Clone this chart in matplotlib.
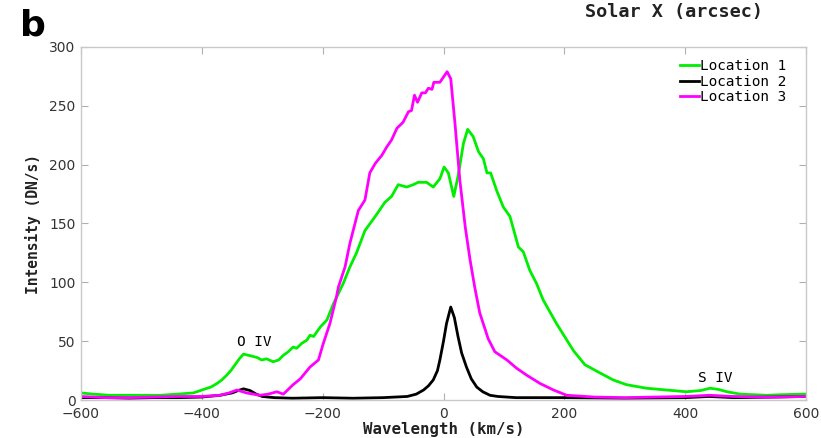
import matplotlib
matplotlib.use("Agg")
import matplotlib.pyplot as plt

# Location 1 (green)
loc1_v = [-600, -580, -552, -510, -469, -440, -414, -397, -385, -375, -367, -359, -352,
          -345, -338, -331, -323, -315, -308, -301, -293, -282, -273, -265, -257, -249,
          -243, -235, -226, -221, -215, -204, -193, -182, -166, -155, -144, -130, -113,
          -97, -86, -75, -61, -50, -42, -28, -17, -6, 1, 8, 17, 24, 33, 40, 49, 58, 66,
          72, 78, 88, 99, 110, 124, 132, 143, 154, 165, 187, 215, 234, 259, 281, 303,
          336, 369, 402, 425, 441, 455, 469, 491, 535, 560, 598]
loc1_i = [6, 5, 4, 4, 4, 5, 6, 9, 11, 14, 17, 21, 25,
          30, 35, 39, 38, 37, 36, 34, 35, 32.5, 34, 38, 41, 45,
          44, 48, 51, 55, 54, 62, 68, 82, 99, 113, 125, 144, 156,
          168, 173, 183, 181, 183, 185, 185, 181, 188, 198, 193, 173, 190, 218, 230, 224, 211, 205,
          193, 193, 178, 164, 156, 130, 126, 110, 99, 85, 65, 42, 30, 23, 17, 13,
          10, 8.5, 7, 8, 10, 9, 7, 5, 4, 4.5, 5]

# Location 2 (black)
loc2_v = [-600, -560, -520, -480, -440, -400, -370, -350, -340, -331, -320, -310, -300,
          -280, -250, -200, -150, -100, -60, -45, -33, -25, -17, -10, -6, 0, 5, 12, 18,
          24, 30, 38, 46, 55, 65, 77, 90, 120, 200, 300, 400, 440, 480, 550, 600]
loc2_i = [2, 2, 1.5, 2, 2, 2.5, 4, 6, 8, 9.5, 8, 5, 3,
          2, 1.5, 2, 1.5, 2, 3, 5, 8.5, 12, 17, 25, 34, 50, 65, 79, 70,
          54, 40, 28, 18, 11, 7, 4, 3, 2, 2, 1.5, 2, 3, 2, 2.5, 3]

# Location 3 (magenta)
loc3_v = [-600, -560, -520, -480, -440, -400, -370, -355, -342, -326, -304, -290, -276,
          -265, -249, -237, -221, -207, -199, -188, -177, -174, -163, -155, -141, -130,
          -122, -113, -102, -94, -86, -77, -67, -58, -53, -48, -43, -36, -30, -25, -19,
          -16, -6, 2, 6, 12, 19, 27, 36, 44, 52, 60, 74, 85, 105, 121, 138, 160, 182,
          204, 250, 300, 350, 400, 440, 480, 540, 600]
loc3_i = [3, 2, 2, 2.5, 3, 3, 4, 6, 8.5, 6, 4, 5, 7,
          5, 13, 18, 28, 34, 48, 65, 88, 96, 113, 133, 161, 170,
          193, 201, 208, 215, 221, 231, 236, 245, 246, 259, 253, 261, 261, 265, 264,
          270, 270, 276, 279, 273, 235, 187, 147, 119, 95, 74, 52, 41, 34, 27, 21, 14, 8.5,
          4, 2.5, 2, 2.5, 3, 4, 3, 2.5, 3]

x_ticks = [-600, -400, -200, 0, 200, 400, 600]
y_ticks = [0, 50, 100, 150, 200, 250, 300]

fig = plt.figure(figsize=(8.21, 4.38), dpi=100)
ax = fig.add_axes([81 / 821, 38 / 438, 725 / 821, 353 / 438])

lw = 2.0
ax.plot(loc1_v, loc1_i, color="#00ee00", lw=lw, label="Location 1")
ax.plot(loc2_v, loc2_i, color="black", lw=lw, label="Location 2")
ax.plot(loc3_v, loc3_i, color="#ff00ff", lw=lw, label="Location 3")

ax.set_xlim(-600, 600)
ax.set_ylim(0, 300)
ax.set_xticks(x_ticks)
ax.set_yticks(y_ticks)
ax.set_xticklabels([str(t).replace("-", "\u2212") for t in x_ticks])

for s in ax.spines.values():
    s.set_color("#c8c8c8")
    s.set_linewidth(1.0)
ax.tick_params(direction="in", length=5, width=0.8, color="#b0b0b0",
               top=True, right=True, labelsize=10, labelcolor="#333333")
ax.tick_params(axis="x", pad=5)
ax.tick_params(axis="y", pad=4)

mono = "DejaVu Sans Mono"
ax.set_xlabel("Wavelength (km/s)", family=mono, weight="bold", fontsize=11.3,
              color="#222222", labelpad=1)
ax.set_ylabel("Intensity (DN/s)", family=mono, weight="bold", fontsize=10.5,
              color="#222222", labelpad=6)

ax.text(-314, 49, "O IV", family=mono, fontsize=10.4, ha="center", va="center")
ax.text(449, 18.7, "S IV", family=mono, fontsize=10.4, ha="center", va="center")

ax.legend(loc="upper right", frameon=False, prop={"family": mono, "size": 10.4},
          handlelength=1.3, handletextpad=0.1, labelspacing=0.1,
          borderaxespad=0.2, bbox_to_anchor=(0.985, 0.99))

fig.text(674 / 821, 1 - 12 / 438, "Solar X (arcsec)", family=mono, weight="bold",
         fontsize=13.3, ha="center", va="center", color="#222222")
fig.text(20 / 821, 1 - 26 / 438, "b", family="DejaVu Sans", weight="bold",
         fontsize=26, ha="left", va="center")

fig.savefig("out.png", dpi=100)
